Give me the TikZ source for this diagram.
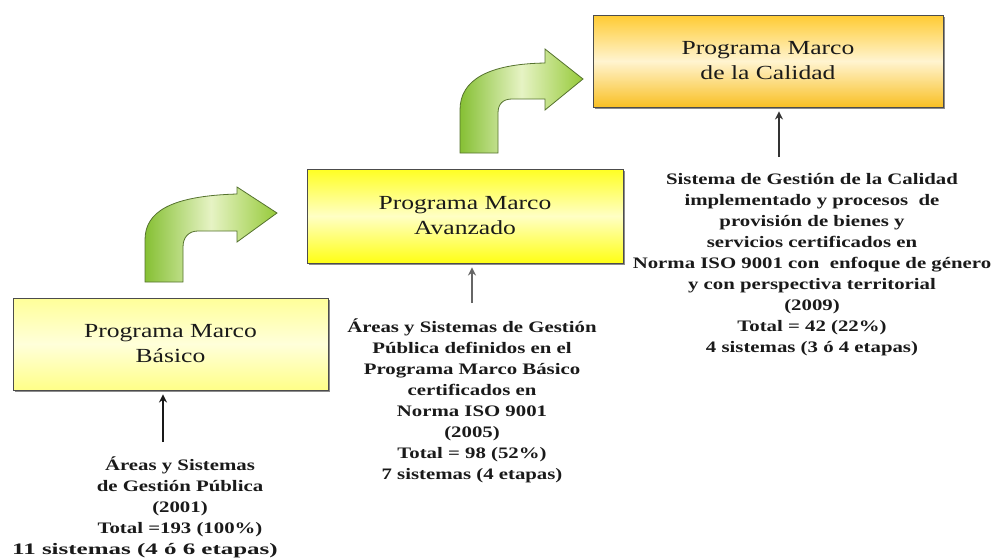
\documentclass[tikz,border=0pt]{standalone}
\usepackage{fontspec}
\newfontfamily\bodyfont[FakeStretch=1.3]{Liberation Serif}
\newfontfamily\titlefont[FakeStretch=1.28]{Liberation Serif}
\usetikzlibrary{arrows.meta,shadows}
\definecolor{txt}{HTML}{1A1A1A}
\definecolor{greenA}{HTML}{86C034}
\definecolor{greenL}{HTML}{E6F3C4}
\definecolor{greenR}{HTML}{96CA3A}
\definecolor{greenEdge}{HTML}{55722E}
\definecolor{yTop1}{HTML}{FFFF99}
\definecolor{yMid1}{HTML}{FFFFDA}
\definecolor{yBot1}{HTML}{FFFF88}
\definecolor{yTop2}{HTML}{FFFF22}
\definecolor{yMid2}{HTML}{FFFFC4}
\definecolor{yBot2}{HTML}{FFFF14}
\definecolor{orgTop}{HTML}{FFCB32}
\definecolor{orgMid}{HTML}{FFF4D0}
\definecolor{orgBot}{HTML}{F9C024}
\tikzset{
  prog/.style={draw=black!70, line width=0.9pt, rectangle, inner sep=0pt,
    drop shadow={shadow xshift=1.5pt, shadow yshift=-1.5pt, opacity=0.45, fill=black},
    align=center, text=txt, font=\titlefont\fontsize{20}{25}\selectfont},
  desc/.style={align=center, inner sep=0pt, text=txt,
    font=\bodyfont\bfseries\fontsize{16}{21}\selectfont},
  uparrow/.style={line width=2.4pt, -{Stealth[length=8pt,width=8pt]}, shorten >=4pt},
  greenbend/.style={draw=greenEdge, line width=0.8pt, left color=greenA, right color=greenR, middle color=greenL}
}
\begin{document}
\begin{tikzpicture}[x=1pt,y=-1pt]
\useasboundingbox (0,0) rectangle (993,557);

% boxes
\node[prog, minimum width=315pt, minimum height=92pt, top color=yTop1, bottom color=yBot1, middle color=yMid1]
  (b1) at (170.5,344) {Programa Marco\\Básico};
\node[prog, minimum width=316pt, minimum height=94pt, top color=yTop2, bottom color=yBot2, middle color=yMid2]
  (b2) at (465,216) {Programa Marco\\Avanzado};
\node[prog, minimum width=350pt, minimum height=92pt, top color=orgTop, bottom color=orgBot, middle color=orgMid]
  (b3) at (768,61) {Programa Marco\\de la Calidad};

% descriptions
\node[desc] (t1) at (180,507) {Áreas y Sistemas\\de Gestión Pública\\(2001)\\Total =193 (100\%)\\\scalebox{1.2}[1]{11 sistemas (4 ó 6 etapas)}\hspace*{70pt}};
\node[desc] (t2) at (472,401) {Áreas y Sistemas de Gestión\\Pública definidos en el\\Programa Marco Básico\\certificados en\\Norma ISO 9001\\(2005)\\Total = 98 (52\%)\\7 sistemas (4 etapas)};
\node[desc] (t3) at (812,265) {Sistema de Gestión de la Calidad\\implementado y procesos\ \ de\\provisión de bienes y\\servicios certificados en\\Norma ISO 9001 con\ \ enfoque de género\\y con perspectiva territorial\\(2009)\\Total = 42 (22\%)\\4 sistemas (3 ó 4 etapas)};

% up arrows
\coordinate (c1) at (163,442);
\coordinate (c2) at (472,303);
\coordinate (c3) at (779,157);
\draw[uparrow, draw=black!90] (c1) -- (c1 |- b1.south);
\draw[uparrow, draw=black!60] (c2) -- (c2 |- b2.south);
\draw[uparrow, draw=black!80] (c3) -- (c3 |- b3.south);

% curved green arrows
\path[greenbend] (145,282) -- (145,240) .. controls (145,212) and (170,196) .. (237,194)
  -- (237,187) -- (277,213) -- (237,242) -- (237,231) -- (198,231)
  .. controls (189,231) and (183,237) .. (183,247) -- (183,282) -- cycle;
\path[greenbend] (460,153) -- (460,110) .. controls (460,80) and (488,64) .. (545,63)
  -- (545,49) -- (583,79) -- (545,110) -- (545,99) -- (512,99)
  .. controls (503,99) and (498,104) .. (498,113) -- (498,153) -- cycle;
\end{tikzpicture}
\end{document}
